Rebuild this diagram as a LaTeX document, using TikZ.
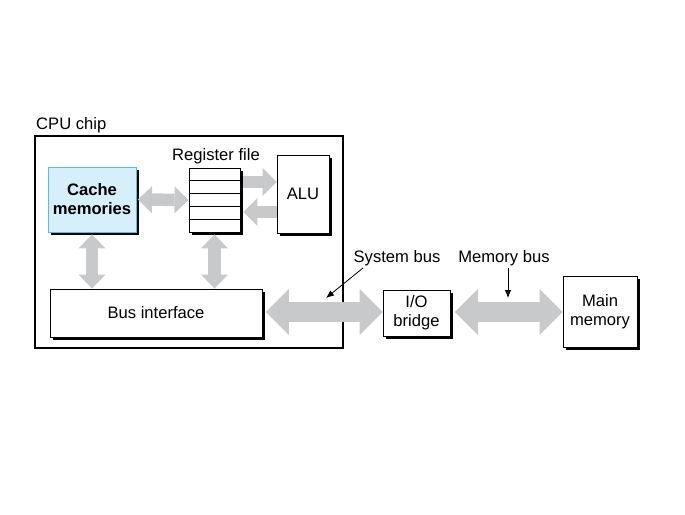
\documentclass[tikz,border=0pt]{standalone}
\usepackage{fontspec}
\setmainfont{Liberation Sans}
\usetikzlibrary{arrows.meta,shadows,calc}
\definecolor{busgray}{RGB}{200,201,203}
\definecolor{cachefill}{RGB}{214,240,251}
\definecolor{cacheline}{RGB}{80,190,235}
\begin{document}
\begin{tikzpicture}[x=1pt,y=-1pt,
  txt/.style={font=\fontsize{16.6}{19}\selectfont, inner sep=0pt},
  unit/.style={draw=black, line width=0.9pt, fill=white, inner sep=0pt, align=center,
    font=\fontsize{16.6}{19}\selectfont,
    drop shadow={shadow xshift=3pt, shadow yshift=-3pt, fill=black, opacity=1}},
  fatbus/.style={draw=busgray, line width=20pt,
    {Triangle[width=46pt,length=23pt,line width=0pt]}-{Triangle[width=46pt,length=23pt,line width=0pt]}},
  thinbus/.style={draw=busgray, line width=12.5pt,
    -{Triangle[width=28pt,length=14pt,line width=0pt]}},
  thinbusboth/.style={draw=busgray, line width=12.5pt,
    {Triangle[width=27pt,length=14pt,line width=0pt]}-{Triangle[width=27pt,length=14pt,line width=0pt]}},
  pointer/.style={draw=black, line width=0.8pt, -{Latex[length=8pt,width=6.5pt]}}
]
\useasboundingbox (0,0) rectangle (685,514);

% CPU chip
\node[draw=black, line width=1.4pt, minimum width=308pt, minimum height=212pt, inner sep=0pt] (cpu) at (189,242) {};
\node[txt, anchor=base west] (cpulabel) at (36,129.5) {CPU chip};

% boxes
\node[unit, fill=cachefill, draw=cacheline, minimum width=88pt, minimum height=65pt,
      font=\fontsize{16.6}{19}\selectfont\bfseries] (cache) at (92,199.5) {Cache\\memories};
\node[unit, minimum width=51pt, minimum height=64pt] (reg) at (214.5,200) {};
\foreach \i in {1,...,4}{
  \draw[line width=0.7pt] ($(reg.north west)!\i/5!(reg.south west)$) -- ($(reg.north east)!\i/5!(reg.south east)$);
}
\node[txt, anchor=base] (reglabel) at (216,160) {Register file};
\node[unit, minimum width=52pt, minimum height=78pt] (alu) at (303,194) {ALU};
\node[unit, minimum width=212pt, minimum height=48pt] (bus) at (156,313) {Bus interface};
\node[unit, minimum width=67pt, minimum height=46pt] (io) at (416.5,313) {I/O\\bridge};
\node[unit, minimum width=74pt, minimum height=71pt] (mem) at (600,311.5) {Main\\memory};

% gray internal buses
\draw[thinbusboth] ([xshift=1.5pt]cache.east) -- (reg.west);
\draw[thinbus] ([xshift=3pt,yshift=18pt]reg.east) -- ([yshift=18pt]reg.east -| alu.west);
\draw[thinbus] ([yshift=-12pt]reg.east -| alu.west) -- ([xshift=3pt,yshift=-12pt]reg.east);
\draw[thinbusboth] ([yshift=-2pt]cache.south) -- (cache.south |- bus.north);
\draw[thinbusboth] ([yshift=-2pt]reg.south) -- (reg.south |- bus.north);

% system and memory buses
\draw[fatbus] ([xshift=3.5pt,yshift=1pt]bus.east) -- ([yshift=1pt]bus.east -| io.west);
\draw[fatbus] ([xshift=4.5pt,yshift=1pt]io.east) -- ([yshift=1pt]io.east -| mem.west);

% labels and pointers
\node[txt, anchor=base] (sblabel) at (397,262.5) {System bus};
\node[txt, anchor=base] (mblabel) at (504,262.5) {Memory bus};
\coordinate (sbstart) at (363,268);
\coordinate (sbtip) at (326,298);
\coordinate (mbstart) at (508,268);
\coordinate (mbtip) at (508,298);
\draw[pointer] (sbstart) -- (sbtip);
\draw[pointer] (mbstart) -- (mbtip);
\end{tikzpicture}
\end{document}
